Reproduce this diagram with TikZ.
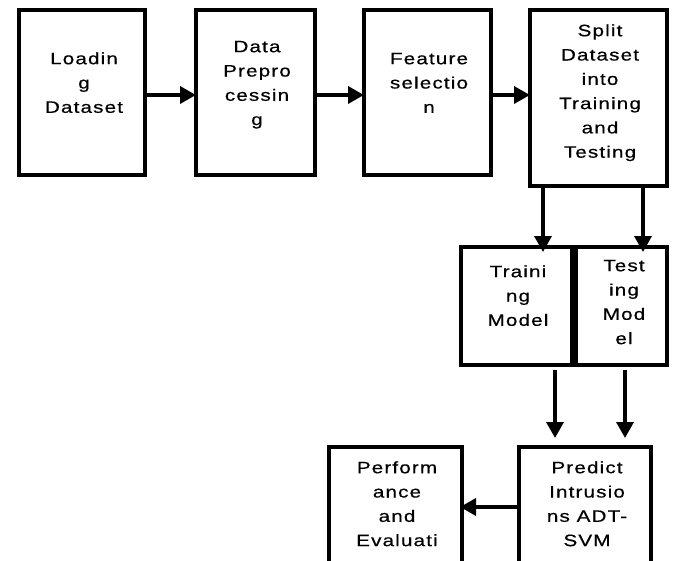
\documentclass[tikz,border=0pt]{standalone}
\usepackage{fontspec}
\setmainfont{Liberation Sans}[LetterSpace=7,FakeStretch=1.25,FakeBold=0.5]
\usetikzlibrary{arrows.meta}
\begin{document}
\begin{tikzpicture}[x=1pt,y=-1pt,
  box/.style={draw=black,line width=4pt,inner sep=0pt,outer sep=0pt,fill=white},
  lbl/.style={anchor=north,inner sep=0pt,align=center,font=\fontsize{16.5}{24.3}\selectfont},
  arr/.style={line width=3.5pt,-{Triangle[length=16pt,width=17pt]}}]
\useasboundingbox[fill=white] (0,0) rectangle (674,560);
% boxes
\node[box,minimum width=126pt,minimum height=165pt] (b1) at (82,92.5) {};
\node[box,minimum width=119pt,minimum height=165pt] (b2) at (255.5,92.5) {};
\node[box,minimum width=127pt,minimum height=165pt] (b3) at (427.5,92.5) {};
\node[box,minimum width=137pt,minimum height=176pt] (b4) at (598.5,98) {};
\node[box,minimum width=111pt,minimum height=118pt] (train) at (516.5,306) {};
\node[box,minimum width=91pt,minimum height=118pt] (test) at (621.5,306) {};
\node[box,minimum width=132pt,minimum height=126pt] (pred) at (585,510) {};
\node[box,minimum width=133pt,minimum height=126pt] (perf) at (395.5,510) {};
% texts
\node[lbl] (t1) at (84,51) {\rule{0pt}{13pt}Loadin\\g\\Dataset};
\node[lbl] (t2) at (257,39) {\rule{0pt}{13pt}Data\\Prepro\\cessin\\g};
\node[lbl] (t3) at (429,51) {\rule{0pt}{13pt}Feature\\selectio\\n};
\node[lbl] (t4) at (600,23) {\rule{0pt}{13pt}Split\\Dataset\\into\\Training\\and\\Testing};
\node[lbl] (t5) at (518,264) {\rule{0pt}{13pt}Traini\\ng\\Model};
\node[lbl] (t6) at (624,258) {\rule{0pt}{13pt}Test\\ing\\Mod\\el};
\node[lbl] (t7) at (587,460) {\rule{0pt}{13pt}Predict\\Intrusio\\ns ADT-\\SVM};
\node[lbl] (t8) at (397,460) {\rule{0pt}{13pt}Perform\\ance\\and\\Evaluati};
% arrows
\draw[arr] ([yshift=-2.5pt]b1.east) -- ([yshift=-2.5pt]b2.west);
\draw[arr] ([yshift=-2.5pt]b2.east) -- ([yshift=-2.5pt]b3.west);
\draw[arr] ([yshift=-2.5pt]b3.east) -- ([yshift=-2.5pt]b3.east -| b4.west);
\draw[arr,shorten >=-5pt] ([xshift=-55.5pt]b4.south) -- ([xshift=-55.5pt]b4.south |- train.north);
\draw[arr,shorten >=-5pt] ([xshift=44.5pt]b4.south) -- ([xshift=44.5pt]b4.south |- test.north);
\draw[arr,shorten <=5pt,shorten >=9pt] ([xshift=38.5pt]train.south) -- ([xshift=38.5pt]train.south |- pred.north);
\draw[arr,shorten <=5pt,shorten >=9pt] ([xshift=3.5pt]test.south) -- ([xshift=3.5pt]test.south |- pred.north);
\draw[arr,shorten >=-2pt] ([yshift=3pt]pred.west) -- ([yshift=3pt]pred.west -| perf.east);
\end{tikzpicture}
\end{document}
